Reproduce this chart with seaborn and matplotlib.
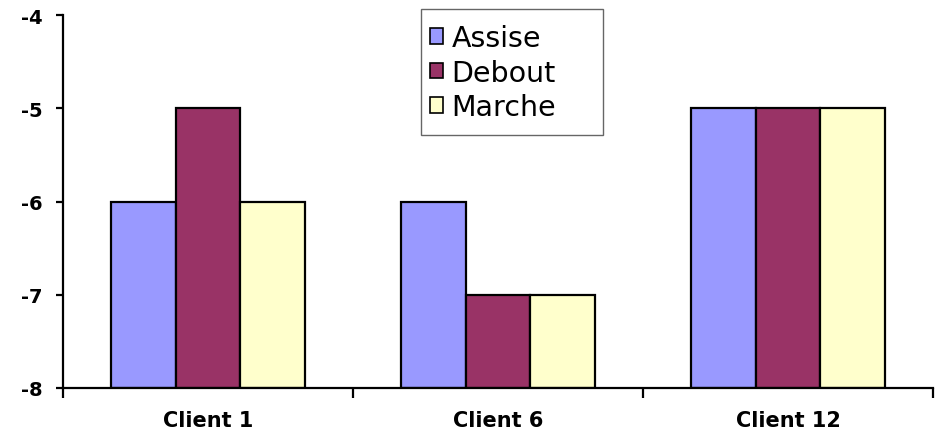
import matplotlib
matplotlib.use("Agg")
import matplotlib.pyplot as plt
from matplotlib.patches import Patch, Rectangle
import seaborn as sns
import pandas as pd
from matplotlib.ticker import FixedLocator

clients = ["Client 1", "Client 6", "Client 12"]
series = ["Assise", "Debout", "Marche"]
assise = [-6, -6, -5]
debout = [-5, -7, -5]
marche = [-6, -7, -5]
colors = ["#9999FF", "#993366", "#FFFFCC"]
y_ticks = [-8, -7, -6, -5, -4]
base = -8

rows = []
for s, vals in zip(series, [assise, debout, marche]):
    for c, v in zip(clients, vals):
        rows.append({"client": c, "serie": s, "value": v, "height": v - base})
df = pd.DataFrame(rows)

sns.set_theme(style="white")
plt.rcParams["font.family"] = ["DejaVu Sans"]
plt.rcParams["text.color"] = "black"

W, H = 936, 435
fig = plt.figure(figsize=(W / 100, H / 100), dpi=100)
ax = fig.add_axes([63 / W, 1 - 389 / H, (933 - 63) / W, (389 - 16) / H])

sns.barplot(data=df, x="client", y="height", hue="serie", order=clients,
            hue_order=series, palette=colors, width=0.667, bottom=base,
            edgecolor="black", linewidth=1.6, saturation=1, ax=ax, legend=False)

ax.set_xlim(-0.5, 2.5)
ax.set_ylim(-8, -4)
ax.set_yticks(y_ticks)
ax.set_yticklabels([str(t) for t in y_ticks])
ax.set_xlabel("")
ax.set_ylabel("")

for sp in ["top", "right"]:
    ax.spines[sp].set_visible(False)
for sp in ["left", "bottom"]:
    ax.spines[sp].set_color("black")
    ax.spines[sp].set_linewidth(1.6)

ax.tick_params(axis="y", which="major", direction="out", length=5, width=1.6,
               color="black", left=True, pad=10, labelsize=14)
ax.tick_params(axis="x", which="major", length=0, pad=16, labelsize=15)
ax.xaxis.set_minor_locator(FixedLocator([-0.5, 0.5, 1.5, 2.5]))
ax.tick_params(axis="x", which="minor", direction="out", length=7, width=1.6,
               color="black", bottom=True)
for lab in ax.get_xticklabels() + ax.get_yticklabels():
    lab.set_fontweight("bold")
    lab.set_color("black")

# legend frame (wider than its content, as in the reference)
fig.patches.append(Rectangle((421 / W, 1 - 136 / H), (603 - 421) / W, (136 - 10) / H,
                             transform=fig.transFigure, facecolor="white",
                             edgecolor="#666666", linewidth=1.0, zorder=5))

handles = [Patch(facecolor=c, edgecolor="black", linewidth=1.2, label=s)
           for s, c in zip(series, colors)]
leg = fig.legend(handles=handles, loc="upper left",
                 bbox_to_anchor=(430 / W, 1 - 25 / H),
                 bbox_transform=fig.transFigure,
                 fontsize=20.5, frameon=False,
                 handlelength=0.45, handleheight=0.45, handletextpad=0.3,
                 labelspacing=0.23, borderpad=0, borderaxespad=0)
leg.set_zorder(6)
for t in leg.get_texts():
    t.set_color("black")

fig.savefig("out.png", dpi=100)
